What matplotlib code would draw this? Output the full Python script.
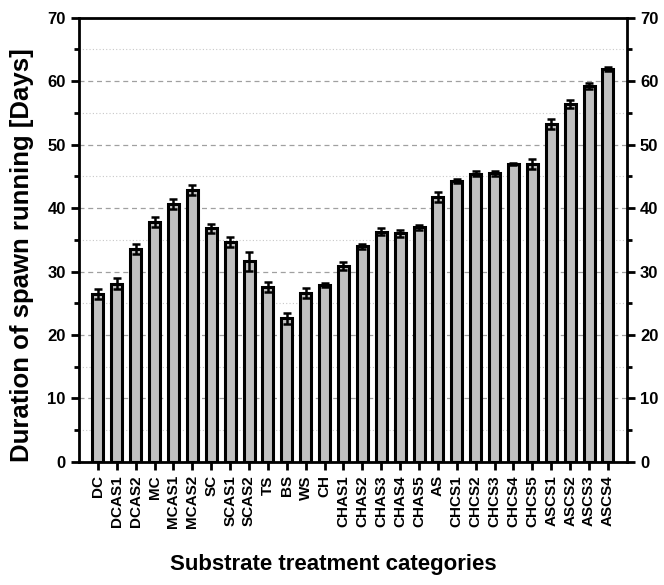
import matplotlib
matplotlib.use("Agg")
import matplotlib.pyplot as plt
import numpy as np
from matplotlib.ticker import MultipleLocator

plt.rcParams['font.family'] = ['Liberation Sans', 'DejaVu Sans']

categories = ["DC", "DCAS1", "DCAS2", "MC", "MCAS1", "MCAS2", "SC", "SCAS1", "SCAS2",
              "TS", "BS", "WS", "CH", "CHAS1", "CHAS2", "CHAS3", "CHAS4", "CHAS5", "AS",
              "CHCS1", "CHCS2", "CHCS3", "CHCS4", "CHCS5", "ASCS1", "ASCS2", "ASCS3", "ASCS4"]
values = [26.4, 28.1, 33.5, 37.8, 40.6, 42.8, 36.8, 34.6, 31.6,
          27.6, 22.6, 26.6, 27.9, 30.9, 34.0, 36.3, 36.0, 37.0, 41.8,
          44.3, 45.4, 45.5, 46.9, 46.9, 53.2, 56.4, 59.2, 61.9]
errors = [0.8, 0.8, 0.8, 0.8, 0.8, 0.8, 0.7, 0.8, 1.5,
          0.8, 0.8, 0.8, 0.3, 0.6, 0.4, 0.6, 0.6, 0.4, 0.8,
          0.3, 0.4, 0.4, 0.2, 0.8, 0.8, 0.6, 0.5, 0.3]

fig = plt.figure(figsize=(6.64, 5.85), dpi=100)
ax = fig.add_axes([0.119, 0.2103, 0.825, 0.7597])

x = np.arange(len(categories))
ax.bar(x, values, width=0.58, color='#c0c0c0', edgecolor='black', linewidth=2.2, zorder=3)
ax.errorbar(x, values, yerr=errors, fmt='none', ecolor='black', elinewidth=1.8,
            capsize=3, capthick=1.8, zorder=4)

ax.set_xlim(-1, len(categories))
ax.set_ylim(0, 70)
ax.yaxis.set_major_locator(MultipleLocator(10))
ax.yaxis.set_minor_locator(MultipleLocator(5))
ax.set_xticks(x)
ax.set_xticklabels(categories, rotation=90, fontsize=11, fontweight='bold')
ax.grid(axis='y', which='major', linestyle=(0, (4, 3)), color='#a0a0a0', linewidth=0.9, zorder=0)
ax.grid(axis='y', which='minor', linestyle=(0, (1, 2)), color='#c8c8c8', linewidth=0.8, zorder=0)

for sp in ax.spines.values():
    sp.set_linewidth(2.0)

ax.tick_params(axis='both', which='major', width=2, length=6, direction='out')
ax.tick_params(axis='y', which='minor', width=2, length=3.5, direction='out')
ax.tick_params(axis='y', labelsize=12)
ax.tick_params(axis='y', which='both', right=True, labelright=True)
for lbl in ax.get_yticklabels():
    lbl.set_fontweight('bold')

ax.set_ylabel("Duration of spawn running [Days]", fontsize=18.5, fontweight='bold')
ax.yaxis.set_label_coords(-0.082, 0.465)
ax.set_xlabel("Substrate treatment categories", fontsize=16, fontweight='bold')
ax.xaxis.set_label_coords(0.464, -0.206)

fig.savefig("out.png", dpi=100)
